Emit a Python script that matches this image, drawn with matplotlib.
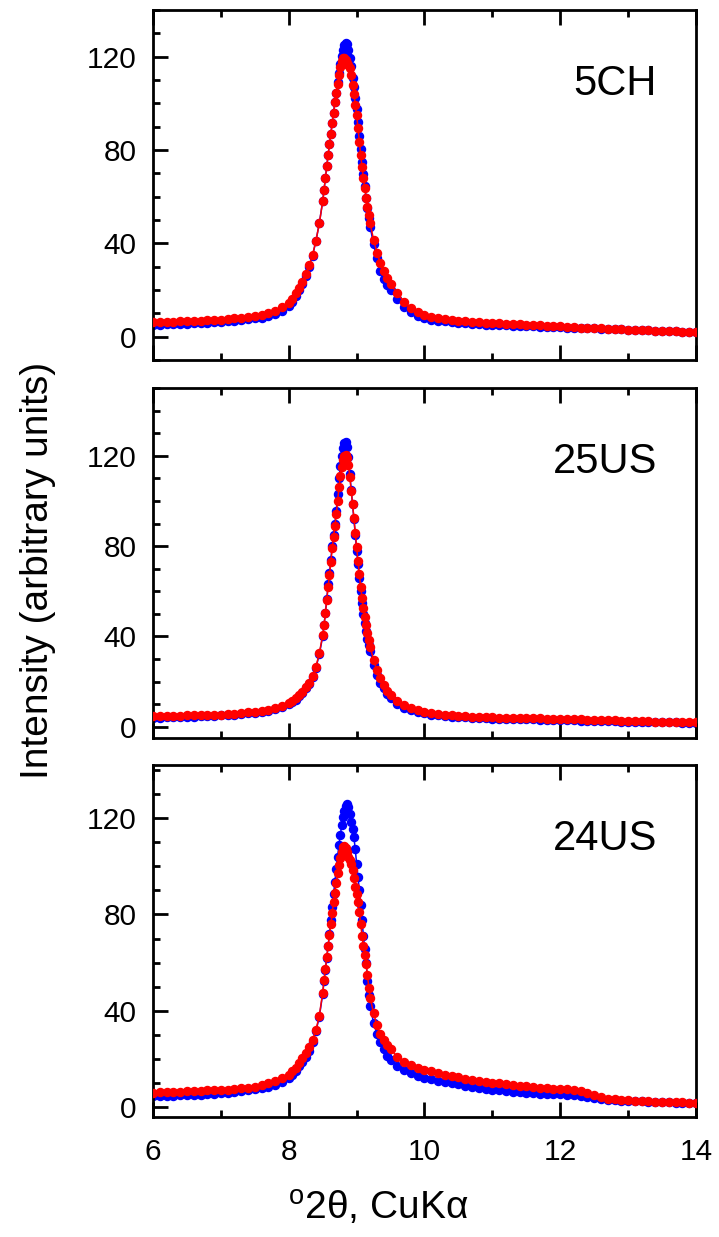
import matplotlib
matplotlib.use("Agg")
import matplotlib.pyplot as plt
from matplotlib.ticker import MultipleLocator

plt.rcParams['font.family'] = ['Liberation Sans', 'DejaVu Sans']
plt.rcParams['mathtext.fontset'] = 'custom'
plt.rcParams['mathtext.rm'] = 'Liberation Sans'

# 2theta grid (deg), dense around the peak
two_theta = [6.0, 6.1, 6.2, 6.3, 6.4, 6.5, 6.6, 6.7, 6.8, 6.9, 7.0, 7.1, 7.2, 7.3, 7.4, 7.5, 7.6, 7.7, 7.8, 7.9, 8.0,
             8.05, 8.1, 8.15, 8.2, 8.25, 8.3, 8.35, 8.4, 8.45,
             8.5, 8.52, 8.54, 8.56, 8.58, 8.6, 8.62, 8.64, 8.66, 8.68, 8.7, 8.72, 8.74, 8.76, 8.78, 8.8, 8.82, 8.84,
             8.86, 8.88, 8.9, 8.92, 8.94, 8.96, 8.98, 9.0, 9.02, 9.04, 9.06, 9.08, 9.1, 9.12, 9.14, 9.16, 9.18, 9.2,
             9.25, 9.3, 9.35, 9.4, 9.45,
             9.5, 9.6, 9.7, 9.8, 9.9, 10.0, 10.1, 10.2, 10.3, 10.4, 10.5, 10.6, 10.7, 10.8, 10.9, 11.0,
             11.1, 11.2, 11.3, 11.4, 11.5, 11.6, 11.7, 11.8, 11.9, 12.0, 12.1, 12.2, 12.3, 12.4, 12.5,
             12.6, 12.7, 12.8, 12.9, 13.0, 13.1, 13.2, 13.3, 13.4, 13.5, 13.6, 13.7, 13.8, 13.9, 14.0]

# 5CH
ch5_blue = [5.2, 5.2, 5.3, 5.4, 5.5, 5.6, 5.7, 5.8, 6.0, 6.2, 6.4, 6.6, 6.8, 7.1, 7.4, 7.8, 8.2, 8.8, 9.8, 11.2, 13.0,
            15.0, 17.5, 20.0, 22.5, 26.0, 30.0, 34.5, 41.0, 48.5,
            58, 63, 68, 73, 78, 82.5, 87, 91.5, 96, 100.5, 104.5, 109, 113, 117, 120.5, 123, 125, 126,
            125.5, 123, 119.5, 116, 111, 107, 102.5, 97.5, 92, 86, 80.5, 75, 69.5, 64.5, 59.5, 55, 51, 47,
            39.5, 33.5, 28, 24.5, 22,
            20, 16, 12.8, 10.5, 9.0, 8.0, 7.3, 6.8, 6.5, 6.2, 5.9, 5.7, 5.5, 5.3, 5.1, 5.0,
            4.9, 4.8, 4.7, 4.6, 4.5, 4.4, 4.3, 4.2, 4.1, 4.0, 3.9, 3.8, 3.7, 3.6, 3.5,
            3.4, 3.3, 3.2, 3.1, 3.0, 2.9, 2.8, 2.7, 2.6, 2.5, 2.4, 2.3, 2.2, 2.1, 2.0]
ch5_red = [6.3, 6.3, 6.3, 6.4, 6.5, 6.6, 6.7, 6.8, 7.0, 7.1, 7.3, 7.5, 7.8, 8.1, 8.4, 8.8, 9.3, 10.0, 11.0, 12.5, 14.5,
           16.2, 18.5, 21.0, 23.5, 27.0, 30.5, 35.0, 41.0, 48.5,
           58, 63, 68, 73, 78, 82.5, 87, 91.5, 96, 100.5, 104.5, 108.5, 112, 115.5, 118, 119.5, 119.5, 118.5,
           117.5, 116.5, 115, 112, 108, 104, 99.5, 95, 89.5, 83.5, 78, 72.5, 68, 63.5, 59.5, 55.5, 52, 48.5,
           41.5, 36, 31.5, 28, 25,
           22.5, 18.5, 15, 12.3, 10.5, 9.2, 8.5, 7.9, 7.5, 7.1, 6.8, 6.6, 6.4, 6.2, 6.0, 5.9,
           5.7, 5.6, 5.4, 5.3, 5.1, 5.0, 4.8, 4.7, 4.5, 4.4, 4.2, 4.1, 3.9, 3.8, 3.6,
           3.5, 3.3, 3.2, 3.1, 3.0, 2.9, 2.8, 2.7, 2.6, 2.5, 2.4, 2.3, 2.2, 2.1, 2.0]

# 25US
us25_blue = [4.0, 4.0, 4.1, 4.2, 4.3, 4.4, 4.5, 4.6, 4.7, 4.8, 5.0, 5.2, 5.4, 5.6, 5.9, 6.2, 6.6, 7.1, 7.8, 8.7, 10.0,
             11.0, 12.0, 13.5, 15.0, 17.0, 19.0, 22.0, 26.0, 32.0,
             40, 45, 50.5, 56.5, 63, 68, 74, 80, 85, 90, 95.5, 103, 110, 115.5, 120, 123.5, 125.5, 126,
             124, 119.5, 112, 105, 98.5, 92, 85, 78, 72, 66, 60, 55, 50, 46, 42.5, 39, 36, 33.5,
             27.5, 23, 19.5, 17, 14.5,
             12.5, 10.2, 8.5, 7.3, 6.5, 5.9, 5.4, 5.0, 4.7, 4.5, 4.3, 4.1, 3.9, 3.8, 3.7, 3.6,
             3.5, 3.4, 3.4, 3.3, 3.2, 3.2, 3.1, 3.0, 3.0, 2.9, 2.9, 2.8, 2.7, 2.7, 2.6,
             2.5, 2.5, 2.4, 2.3, 2.3, 2.2, 2.2, 2.1, 2.0, 2.0, 1.9, 1.9, 1.8, 1.8, 1.7]
us25_red = [4.6, 4.6, 4.7, 4.8, 4.9, 5.0, 5.0, 5.1, 5.2, 5.3, 5.4, 5.6, 5.8, 6.0, 6.3, 6.6, 7.0, 7.5, 8.2, 9.2, 10.5,
            11.5, 12.5, 14.0, 15.5, 17.5, 19.5, 22.5, 26.5, 32.5,
            40.5, 45, 50.5, 56, 62, 67, 73, 79, 84, 89, 94, 100, 106, 111, 115, 118, 120, 120.5,
            119, 116, 110.5, 104.5, 98.5, 92.5, 86, 79.5, 73.5, 67.5, 62, 57, 52.5, 48.5, 45, 41.5, 38.5, 35.5,
            29.5, 25, 21.5, 18.5, 16,
            14.0, 11.5, 9.6, 8.3, 7.4, 6.7, 6.2, 5.8, 5.4, 5.2, 4.9, 4.7, 4.5, 4.4, 4.2, 4.1,
            4.0, 3.9, 3.9, 3.8, 3.8, 3.7, 3.7, 3.6, 3.5, 3.4, 3.4, 3.3, 3.2, 3.1, 3.1,
            3.0, 2.9, 2.8, 2.7, 2.6, 2.6, 2.5, 2.4, 2.3, 2.2, 2.1, 2.1, 2.0, 2.0, 1.9]

# 24US
us24_blue = [4.7, 4.7, 4.8, 4.9, 5.0, 5.1, 5.2, 5.3, 5.5, 5.6, 5.8, 6.0, 6.3, 6.6, 7.0, 7.5, 8.0, 8.6, 9.3, 10.5, 12.0,
             13.5, 15.0, 17.0, 19.0, 21.0, 23.5, 27.0, 31.5, 37.5,
             47, 52.5, 57, 62, 67, 72, 77.5, 83, 88.5, 93.5, 99, 104, 109, 113, 117, 120.5, 123, 125,
             126, 124.5, 121.5, 118.5, 115.5, 112, 107, 101, 95.5, 90, 84, 77.5, 71, 65.5, 60, 52.5, 46.5, 42,
             35, 30.5, 27, 24, 21.5,
             19.5, 17.2, 15.5, 14.2, 13.2, 12.3, 11.6, 11.0, 10.5, 10.0, 9.5, 9.0, 8.6, 8.2, 7.8, 7.4,
             7.1, 6.8, 6.5, 6.2, 6.0, 5.8, 5.7, 5.6, 5.5, 5.4, 5.3, 5.2, 4.9, 4.4, 3.8,
             3.4, 3.1, 2.9, 2.8, 2.7, 2.6, 2.5, 2.4, 2.3, 2.2, 2.1, 2.0, 1.9, 1.9, 1.8]
us24_red = [6.1, 6.2, 6.3, 6.4, 6.5, 6.6, 6.7, 6.8, 7.0, 7.1, 7.2, 7.4, 7.6, 7.9, 8.2, 8.5, 9.2, 9.9, 10.8, 12.0, 13.6,
            15.0, 16.5, 18.5, 20.5, 22.5, 25.0, 28.0, 32.0, 38.0,
            47.5, 53, 57.5, 62.5, 67, 71.5, 76, 80.5, 85, 89, 93, 97, 100.5, 103.5, 106, 108, 108.5, 107.5,
            106, 104, 102.5, 101, 98.5, 95, 91.5, 88.5, 85, 81, 76, 71, 67, 63, 59.5, 55, 49.5, 45.5,
            39, 34, 30.5, 28, 26,
            24, 21, 19, 17.5, 16.5, 15.7, 14.9, 14.2, 13.6, 13.0, 12.4, 11.8, 11.3, 10.9, 10.5, 10.2,
            9.9, 9.6, 9.3, 9.0, 8.7, 8.4, 8.2, 8.0, 7.8, 7.7, 7.5, 7.3, 6.8, 6.0, 5.0,
            4.2, 3.6, 3.3, 3.1, 2.9, 2.8, 2.6, 2.5, 2.4, 2.3, 2.2, 2.1, 2.1, 2.0, 2.0]

sample_names = ["5CH", "25US", "24US"]
blue_sets = [ch5_blue, us25_blue, us24_blue]
red_sets = [ch5_red, us25_red, us24_red]
y_ranges = [(-10, 140), (-5, 150), (-4, 142)]

fig = plt.figure(figsize=(7.19, 12.37), dpi=100)
# axes boxes [left, bottom, width, height] in figure fractions
boxes = [[0.2128, 0.7090, 0.7552, 0.2829],
         [0.2128, 0.4034, 0.7552, 0.2829],
         [0.2128, 0.0970, 0.7552, 0.2846]]

for k in range(3):
    ax = fig.add_axes(boxes[k])
    ax.plot(two_theta, blue_sets[k], '-o', color='#0000ff', lw=1.1, ms=5.8, mec='#0000ff', zorder=2)
    ax.plot(two_theta, red_sets[k], '-o', color='#ff0000', lw=1.1, ms=5.8, mec='#ff0000', zorder=3)
    ax.set_xlim(6, 14)
    ax.set_ylim(*y_ranges[k])
    ax.xaxis.set_major_locator(MultipleLocator(2))
    ax.xaxis.set_minor_locator(MultipleLocator(1))
    ax.yaxis.set_major_locator(MultipleLocator(40))
    ax.yaxis.set_minor_locator(MultipleLocator(10))
    ax.tick_params(which='both', direction='in', top=True, right=False, width=2.0, labelsize=21.5, pad=12)
    ax.tick_params(axis='x', which='both', pad=15)
    ax.tick_params(which='major', length=10.5)
    ax.tick_params(which='minor', length=5.2)
    for side in ['left', 'bottom', 'top', 'right']:
        ax.spines[side].set_linewidth(2.0)
    if k < 2:
        ax.set_xticklabels([])
    ax.text(0.928, 0.79, sample_names[k], transform=ax.transAxes, ha='right', va='center', fontsize=30)

ax.set_xlabel(r'$^{\rm o}$2θ, CuKα', fontsize=28, va='center')
ax.xaxis.set_label_coords(0.414, -0.258)
fig.text(0.053, 0.539, 'Intensity (arbitrary units)', rotation=90, ha='center', va='center', fontsize=28)

plt.savefig("out.png", dpi=100)
